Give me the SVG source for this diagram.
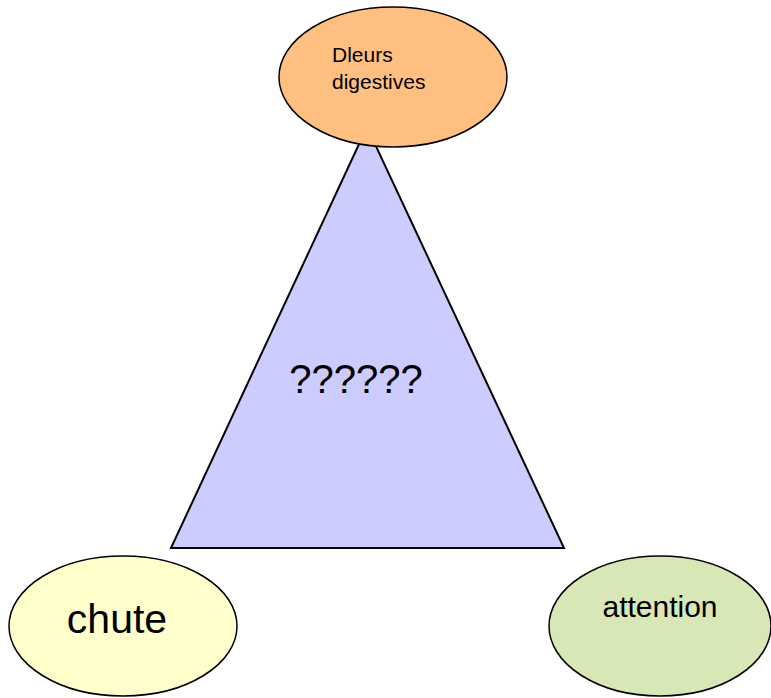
<svg xmlns="http://www.w3.org/2000/svg" width="771" height="698" viewBox="0 0 771 698">
<style>
.node{stroke:#000;stroke-width:1.5}
text{font-family:"Liberation Sans",Arial,sans-serif;fill:#000}
</style>
<rect width="771" height="698" fill="#fff"/>
<g id="triangle">
<polygon points="367,127 171,548 564,548" fill="#CCCCFF" stroke="#000" stroke-width="2" stroke-linejoin="miter"/>
<text x="356" y="393" font-size="40" text-anchor="middle">??????</text>
</g>
<g id="connectors"></g>
<g id="node-douleurs">
<ellipse class="node" cx="393" cy="77" rx="114" ry="70" fill="#FFBF80"/>
<text x="332" y="62" font-size="21">Dleurs</text>
<text x="332" y="89" font-size="21">digestives</text>
</g>
<g id="node-chute">
<ellipse class="node" cx="123" cy="626" rx="114" ry="70" fill="#FFFFCC"/>
<text x="117" y="633" font-size="41" text-anchor="middle">chute</text>
</g>
<g id="node-attention">
<ellipse class="node" cx="660" cy="626" rx="111" ry="70" fill="#D8E7B6"/>
<text x="660" y="617" font-size="30" text-anchor="middle">attention</text>
</g>
</svg>
